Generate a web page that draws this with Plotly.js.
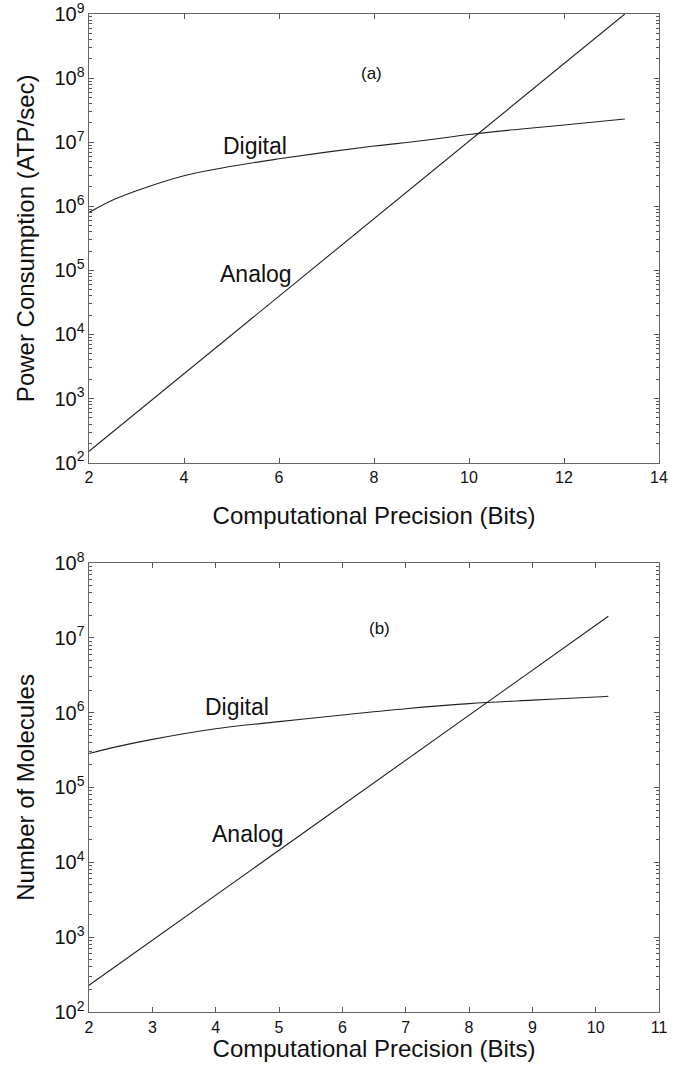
<!DOCTYPE html>
<html>
<head>
<meta charset="utf-8">
<script src="https://cdn.plot.ly/plotly-3.0.1.min.js"></script>
<style>html,body{margin:0;padding:0;background:#fff;}#chart{width:693px;height:1065px;}</style>
</head>
<body>
<div id="chart"></div>
<script>
// Panel (a): power consumption vs precision
const bitsA_digital = [2, 2.5, 3, 4, 5, 6, 7, 8, 9, 10, 11, 12, 13.28];
const powerA_digital = [8.0e5, 1.25e6, 1.75e6, 3.0e6, 4.2e6, 5.5e6, 7.0e6, 8.7e6, 1.05e7, 1.32e7, 1.58e7, 1.85e7, 2.3e7];
const bitsA_analog = [2, 13.28];
const powerA_analog = [150, 1.0e9];

// Panel (b): number of molecules vs precision
const bitsB_digital = [2, 2.5, 3, 4, 5, 6, 7, 8, 9, 10, 10.2];
const molsB_digital = [2.85e5, 3.6e5, 4.4e5, 6.1e5, 7.6e5, 9.3e5, 1.13e6, 1.32e6, 1.47e6, 1.62e6, 1.66e6];
const bitsB_analog = [2, 10.2];
const molsB_analog = [228, 1.94e7];

// Text labels (x in bits, y as log10 value)
const labelsA = ["(a)", "Digital", "Analog"];
const labelsA_x = [7.94, 5.50, 5.52];
const labelsA_logy = [8.07, 6.935, 4.94];
const labelsB = ["(b)", "Digital", "Analog"];
const labelsB_x = [6.59, 4.33, 4.51];
const labelsB_logy = [7.12, 6.076, 4.384];

const xTitle = "Computational Precision (Bits)";
const yTitleA = "Power Consumption (ATP/sec)";
const yTitleB = "Number of Molecules";

const FONT = "Liberation Sans, Arial, Helvetica, sans-serif";
const lineStyle = {color: "#222", width: 1.1};

const traces = [
  {x: bitsA_digital, y: powerA_digital, mode: "lines", line: Object.assign({shape: "spline"}, lineStyle), xaxis: "x", yaxis: "y", name: "Digital"},
  {x: bitsA_analog, y: powerA_analog, mode: "lines", line: lineStyle, xaxis: "x", yaxis: "y", name: "Analog"},
  {x: bitsB_digital, y: molsB_digital, mode: "lines", line: Object.assign({shape: "spline"}, lineStyle), xaxis: "x2", yaxis: "y2", name: "Digital"},
  {x: bitsB_analog, y: molsB_analog, mode: "lines", line: lineStyle, xaxis: "x2", yaxis: "y2", name: "Analog"}
];

function annots(texts, xs, ys, xref, yref) {
  return texts.map((t, i) => ({
    text: t, x: xs[i], y: ys[i], xref: xref, yref: yref, showarrow: false,
    font: {family: FONT, size: i === 0 ? 17 : 23, color: "#111"},
    xanchor: "center", yanchor: "middle"
  }));
}

const axisCommon = {
  showline: true, linecolor: "#666", linewidth: 1.3, mirror: "allticks",
  ticks: "inside", ticklen: 5, tickcolor: "#555", tickwidth: 1,
  showgrid: false, zeroline: false, ticklabeloverflow: "allow",
  tickfont: {family: FONT, size: 16, color: "#111"}
};

const minorLog = {ticks: "inside", ticklen: 3, tickcolor: "#555", tickwidth: 1, dtick: "D1", showgrid: false};

const layout = {
  width: 693, height: 1065,
  margin: {l: 89, r: 34.3, t: 13.7, b: 53.3},
  paper_bgcolor: "#fff", plot_bgcolor: "#fff",
  showlegend: false,
  font: {family: FONT},
  xaxis: Object.assign({}, axisCommon, {
    domain: [0, 1], anchor: "y", range: [2, 14], dtick: 2, tick0: 2,
    title: {text: xTitle, font: {family: FONT, size: 24, color: "#111"}, standoff: 22}
  }),
  yaxis: Object.assign({}, axisCommon, {
    domain: [0.5505, 1], anchor: "x", type: "log", range: [2, 9], dtick: 1,
    exponentformat: "power", minor: minorLog,
    title: {text: yTitleA, font: {family: FONT, size: 24, color: "#111"}, standoff: 13}
  }),
  xaxis2: Object.assign({}, axisCommon, {
    domain: [0, 1], anchor: "y2", range: [2, 11], dtick: 1, tick0: 2,
    title: {text: xTitle, font: {family: FONT, size: 24, color: "#111"}, standoff: 3}
  }),
  yaxis2: Object.assign({}, axisCommon, {
    domain: [0, 0.4499], anchor: "x2", type: "log", range: [2, 8], dtick: 1,
    exponentformat: "power", minor: minorLog,
    title: {text: yTitleB, font: {family: FONT, size: 24, color: "#111"}, standoff: 13}
  }),
  annotations: annots(labelsA, labelsA_x, labelsA_logy, "x", "y")
    .concat(annots(labelsB, labelsB_x, labelsB_logy, "x2", "y2"))
};

Plotly.newPlot("chart", traces, layout, {staticPlot: true, displayModeBar: false});
</script>
</body>
</html>
